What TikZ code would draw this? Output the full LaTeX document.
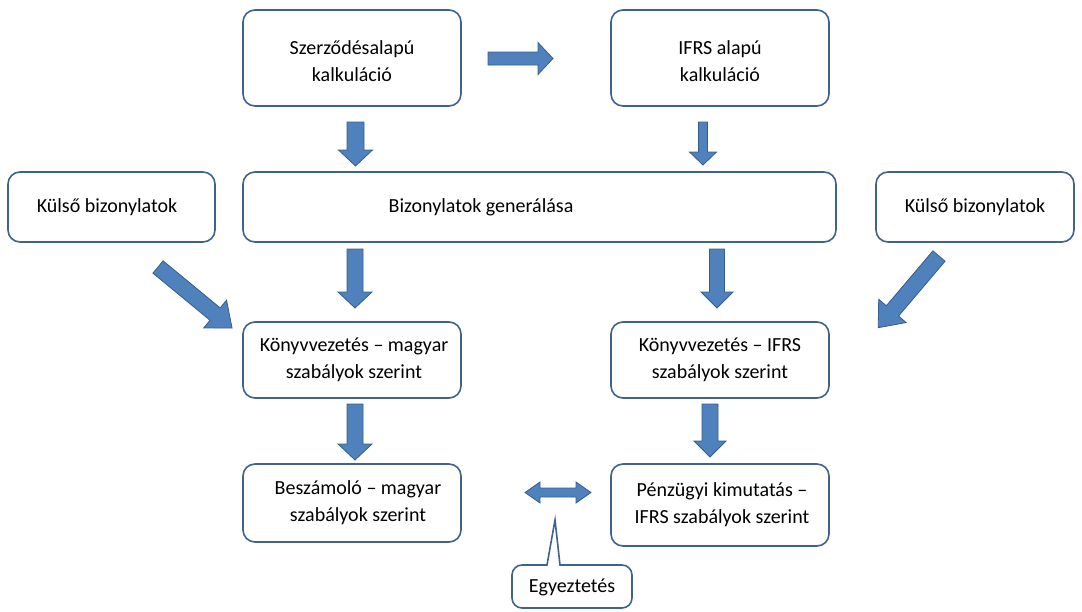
\documentclass[tikz,border=0pt]{standalone}
\usepackage{fontspec}
\setmainfont{Carlito}
\definecolor{boxline}{HTML}{3F6391}
\definecolor{arrfill}{HTML}{4F81BD}
\definecolor{arrline}{HTML}{385D8A}
\begin{document}
\begin{tikzpicture}[x=1pt,y=-1pt,
  box/.style={draw=boxline,line width=1.6pt,rounded corners=12pt,fill=white},
  lbl/.style={font=\fontsize{20}{27}\selectfont,align=center,text=black},
  arrowfill/.style={fill=arrfill,draw=arrline,line width=0.8pt,line join=miter},
  pics/barrow/.style n args={4}{code={
    \draw[arrowfill] (0,-#2) -- ({#1-#4},-#2) -- ({#1-#4},-#3) -- (#1,0) -- ({#1-#4},#3) -- ({#1-#4},#2) -- (0,#2) -- cycle;
  }}]
\useasboundingbox (0,0) rectangle (1082,611);
% boxes
\draw[box] (243,10) rectangle (461,106);
\draw[box] (611,10) rectangle (829,106);
\draw[box] (243,172) rectangle (836,242);
\draw[box] (8,172) rectangle (215,242);
\draw[box] (876,172) rectangle (1074,242);
\draw[box] (243,322) rectangle (461,398);
\draw[box] (611,322) rectangle (829,398);
\draw[box] (243,464) rectangle (461,542);
\draw[box] (611,464) rectangle (829,546);
% labels
\node[lbl] (szerz) at (352,61) {Szerződésalapú\\kalkuláció};
\node[lbl] (ifrs) at (720,61) {IFRS alapú\\kalkuláció};
\node[lbl] (gen) at (481,207) {Bizonylatok generálása};
\node[lbl] (kulso1) at (107,207) {Külső bizonylatok};
\node[lbl] (kulso2) at (975,207) {Külső bizonylatok};
\node[lbl] (konyvhu) at (354,360) {Könyvvezetés – magyar\\szabályok szerint};
\node[lbl] (konyvif) at (720,360) {Könyvvezetés – IFRS\\szabályok szerint};
\node[lbl] (beszhu) at (358,503) {Beszámoló – magyar\\szabályok szerint};
\node[lbl] (penzif) at (722,505) {Pénzügyi kimutatás –\\IFRS szabályok szerint};
% callout
\draw[box,rounded corners=0pt] (555,520) -- (547,565) [rounded corners=10pt] -- (512,565) -- (512,608) -- (632,608) -- (632,565) [rounded corners=0pt] -- (560,565) -- cycle;
\node[lbl] (egy) at (572,587) {Egyeztetés};
% block arrows
\pic at (488,58.5) {barrow={65}{6.5}{16}{15}};
\pic[rotate=-90] at (355.5,122) {barrow={44}{8.5}{17}{16}};
\pic[rotate=-90] at (703,122) {barrow={43}{4.5}{13.5}{13}};
\pic[rotate=-90] at (355,249) {barrow={59}{8}{17}{16}};
\pic[rotate=-90] at (717,249) {barrow={59}{7.5}{16}{16}};
\pic[rotate=-90] at (355,404) {barrow={56}{8}{17}{16}};
\pic[rotate=-90] at (710,404) {barrow={53}{8}{16}{16}};
\pic[rotate=-39.5] at (158,267) {barrow={96}{8}{18}{22}};
\pic[rotate=-130.3] at (939,256) {barrow={94}{8}{18}{22}};
% double arrow
\draw[arrowfill] (525,492.5) -- (540,482) -- (540,488) -- (576,488) -- (576,482) -- (591,492.5) -- (576,503) -- (576,497) -- (540,497) -- (540,503) -- cycle;
\end{tikzpicture}
\end{document}
